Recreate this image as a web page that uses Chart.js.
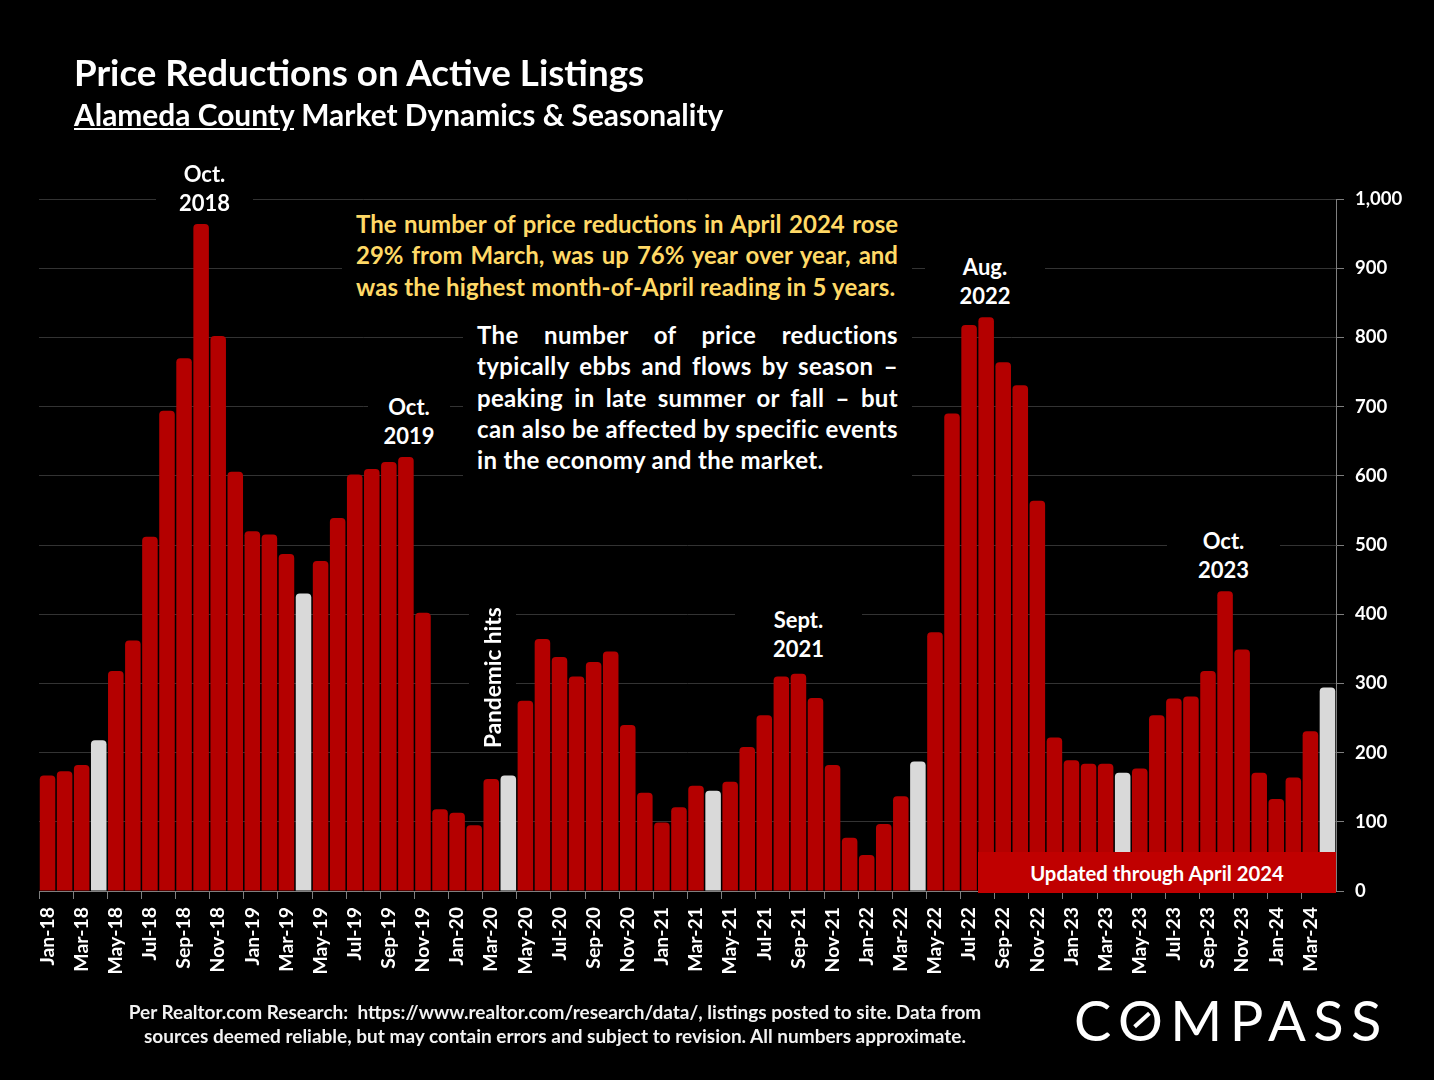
<!DOCTYPE html>
<html>
<head>
<meta charset="utf-8">
<title>Price Reductions on Active Listings</title>
<script src="https://cdn.jsdelivr.net/npm/chart.js@4"></script>
<style>
body { margin: 0; background: #000; font-family: Lato, sans-serif; font-weight: 700; color: #fff; }
#wrap { position: relative; width: 1434px; height: 1080px; overflow: hidden; background: #000; }
#wrap div { position: absolute; }
.lbl { background: #000; text-align: center; font-size: 22px; line-height: 29px; }
.just { background: #000; text-align: justify; text-align-last: justify; font-size: 24px; line-height: 31.3px; white-space: nowrap; }
.just span { display: block; }
</style>
</head>
<body>
<div id="wrap">
	<canvas id="myChart" width="1434" height="1080" style="position:absolute;left:0;top:0"></canvas>

	<div style="left:74px;top:50px;font-size:36.7px;line-height:44px;white-space:nowrap">Price Reductions on Active Listings</div>
	<div style="left:74px;top:95px;font-size:29.9px;line-height:38px;white-space:nowrap"><u>Alameda County</u> Market Dynamics &amp; Seasonality</div>

	<div class="lbl" style="left:156px;top:159px;width:97px;height:56px">Oct.<br>2018</div>
	<div class="lbl" style="left:368px;top:392px;width:82px;height:58px">Oct.<br>2019</div>
	<div class="lbl" style="left:925px;top:252px;width:120px;height:58px">Aug.<br>2022</div>
	<div class="lbl" style="left:735px;top:605px;width:127px;height:58px">Sept.<br>2021</div>
	<div class="lbl" style="left:1167px;top:526px;width:113px;height:58px">Oct.<br>2023</div>

	<div class="lbl" style="left:469px;top:604px;width:47px;height:148px;font-size:22.6px;line-height:47px;writing-mode:vertical-rl;transform:rotate(180deg);white-space:nowrap">Pandemic hits</div>

	<div class="just" style="left:342px;top:208px;width:570px;height:96px;color:#FFD966"><div style="position:static;margin-left:14px;width:542px">
		<span>The number of price reductions in April 2024 rose</span>
		<span>29% from March, was up 76% year over year, and</span>
		<span style="text-align-last:left;letter-spacing:0.15px">was the highest month-of-April reading in 5 years.</span>
	</div></div>

	<div class="just" style="left:463px;top:319px;width:449px;height:159px;letter-spacing:0.33px"><div style="position:static;margin-left:14px;width:421px">
		<span>The number of price reductions</span>
		<span>typically ebbs and flows by season –</span>
		<span>peaking in late summer or fall – but</span>
		<span>can also be affected by specific events</span>
		<span style="text-align-last:left">in the economy and the market.</span>
	</div></div>

	<div style="left:978px;top:852px;width:358px;height:41px;background:#C00000;text-align:center;font-size:20.3px;line-height:42px">Updated through April 2024</div>

	<div style="left:0;top:1000px;width:1110px;text-align:center;font-size:19px;line-height:24px;color:#F2F2F2">Per Realtor.com Research:&nbsp; https://www.realtor.com/research/data/, listings posted to site. Data from<br>sources deemed reliable, but may contain errors and subject to revision. All numbers approximate.</div>

	<div style="left:1074px;top:986px;font-weight:400;font-size:56px;line-height:68px;letter-spacing:7.4px;white-space:nowrap">COMPASS</div>
	<div style="left:1132px;top:1018px;width:20px;height:4px;background:#fff;transform:rotate(-42deg)"></div>
</div>

<script>
var months = [
	"Jan-18","Feb-18","Mar-18","Apr-18","May-18","Jun-18","Jul-18","Aug-18","Sep-18","Oct-18","Nov-18","Dec-18",
	"Jan-19","Feb-19","Mar-19","Apr-19","May-19","Jun-19","Jul-19","Aug-19","Sep-19","Oct-19","Nov-19","Dec-19",
	"Jan-20","Feb-20","Mar-20","Apr-20","May-20","Jun-20","Jul-20","Aug-20","Sep-20","Oct-20","Nov-20","Dec-20",
	"Jan-21","Feb-21","Mar-21","Apr-21","May-21","Jun-21","Jul-21","Aug-21","Sep-21","Oct-21","Nov-21","Dec-21",
	"Jan-22","Feb-22","Mar-22","Apr-22","May-22","Jun-22","Jul-22","Aug-22","Sep-22","Oct-22","Nov-22","Dec-22",
	"Jan-23","Feb-23","Mar-23","Apr-23","May-23","Jun-23","Jul-23","Aug-23","Sep-23","Oct-23","Nov-23","Dec-23",
	"Jan-24","Feb-24","Mar-24","Apr-24"
];
var reductions = [
	167,173,182,218,318,362,512,694,770,964,802,606,
	520,515,487,430,477,539,602,610,620,627,402,118,
	113,95,162,167,275,364,338,310,331,346,240,142,
	99,121,152,145,158,208,254,310,314,279,182,77,
	52,97,137,187,374,690,818,829,764,731,564,222,
	189,184,184,171,177,254,278,281,318,433,349,171,
	133,164,231,294
];
// April bars are the grey ones
var greyMonths = ["Apr-18","Apr-19","Apr-20","Apr-21","Apr-22","Apr-23","Apr-24"];

var barColors = months.map(function(m) {
	return greyMonths.indexOf(m) >= 0 ? "#D9D9D9" : "#B40000";
});

window.onload = function() {
	var ctx = document.getElementById("myChart").getContext("2d");
	new Chart(ctx, {
		type: "bar",
		data: {
			labels: months,
			datasets: [{
				data: reductions,
				backgroundColor: barColors,
				barPercentage: 0.91,
				categoryPercentage: 1,
				borderRadius: { topLeft: 4, topRight: 4 },
				borderSkipped: "bottom"
			}]
		},
		options: {
			responsive: false,
			animation: false,
			layout: { padding: { left: 39, top: 199 } },
			plugins: { legend: { display: false }, tooltip: { enabled: false } },
			scales: {
				x: {
					offset: true,
					afterFit: function(scale) { scale.height = 189; },
					grid: {
						offset: true,
						drawOnChartArea: false,
						tickLength: 8,
						tickColor: function(c) { return c.index % 2 == 0 ? "#7F7F7F" : "transparent"; }
					},
					border: { color: "#7F7F7F" },
					ticks: {
						autoSkip: false,
						minRotation: 90,
						maxRotation: 90,
						padding: 8,
						color: "#fff",
						font: { family: "Lato", weight: "bold", size: 19.4 },
						callback: function(v, i) { return i % 2 == 0 ? months[i] : ""; }
					}
				},
				y: {
					position: "right",
					min: 0,
					max: 1000,
					afterFit: function(scale) { scale.width = 98; },
					grid: { color: "#333333", tickColor: "#7F7F7F", tickLength: 8 },
					border: { color: "#7F7F7F" },
					ticks: {
						stepSize: 100,
						padding: 11,
						color: "#fff",
						font: { family: "Lato", weight: "bold", size: 18.5 },
						callback: function(v) { return v.toLocaleString("en-US"); }
					}
				}
			}
		}
	});
};
</script>
</body>
</html>
